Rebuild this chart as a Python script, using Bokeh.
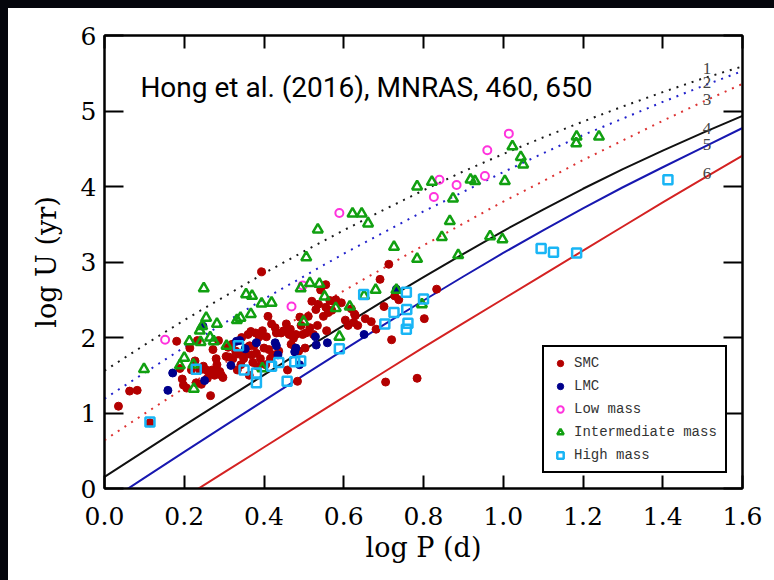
from bokeh.plotting import figure
from bokeh.models import (LinearAxis, Legend, LegendItem, ColumnDataSource, Label,
                          FixedTicker, Range1d, PrintfTickFormatter)
from bokeh.embed import file_html
from bokeh.resources import INLINE
from bokeh.core.properties import value

# ---------------- data ----------------
curve_x = [0.0, 0.1, 0.2, 0.3, 0.4, 0.5, 0.6, 0.7, 0.8, 0.9, 1.0, 1.1, 1.2, 1.3, 1.4, 1.5, 1.6]
line1_y = [1.56, 1.90, 2.23, 2.54, 2.85, 3.14, 3.42, 3.69, 3.95, 4.20, 4.43, 4.65, 4.86, 5.06, 5.25, 5.43, 5.59]
line2_y = [1.19, 1.53, 1.87, 2.19, 2.51, 2.81, 3.11, 3.39, 3.67, 3.93, 4.19, 4.44, 4.68, 4.90, 5.12, 5.33, 5.53]
line3_y = [0.64, 0.99, 1.33, 1.66, 1.99, 2.30, 2.62, 2.92, 3.22, 3.51, 3.80, 4.07, 4.35, 4.61, 4.87, 5.12, 5.36]
line4_y = [0.155, 0.495, 0.835, 1.170, 1.505, 1.835, 2.161, 2.485, 2.800, 3.108, 3.410, 3.695, 3.970, 4.230, 4.475, 4.710, 4.935]
line5_y = [-0.205, 0.140, 0.485, 0.825, 1.165, 1.502, 1.836, 2.168, 2.490, 2.808, 3.120, 3.420, 3.710, 3.990, 4.255, 4.515, 4.775]
line6_x = [0.2, 0.3, 0.4, 0.5, 0.6, 0.7, 0.8, 0.9, 1.0, 1.1, 1.2, 1.3, 1.4, 1.5, 1.6]
line6_y = [-0.12, 0.213, 0.546, 0.878, 1.21, 1.54, 1.87, 2.19, 2.51, 2.83, 3.15, 3.47, 3.79, 4.10, 4.41]

line_label_x = [1.511, 1.511, 1.511, 1.511, 1.511, 1.511]
line_label_y = [5.56, 5.38, 5.15, 4.77, 4.56, 4.17]
line_label_text = ["1", "2", "3", "4", "5", "6"]

smc_x = [0.035, 0.063, 0.082, 0.114, 0.181, 0.189, 0.195, 0.198, 0.206, 0.214, 0.218, 0.227, 0.230, 0.233,
         0.239, 0.243, 0.248, 0.255, 0.258, 0.264, 0.266, 0.270, 0.272, 0.276, 0.280, 0.282, 0.286, 0.289,
         0.293, 0.297, 0.305, 0.310, 0.313, 0.320, 0.322, 0.329, 0.333, 0.338, 0.342, 0.344, 0.349, 0.354,
         0.357, 0.360, 0.363, 0.364, 0.367, 0.369, 0.372, 0.375, 0.379, 0.381, 0.384, 0.388, 0.391, 0.394,
         0.396, 0.400, 0.404, 0.406, 0.410, 0.412, 0.416, 0.419, 0.422, 0.428, 0.431, 0.437, 0.443, 0.450,
         0.456, 0.459, 0.463, 0.466, 0.468, 0.474, 0.478, 0.480, 0.484, 0.487, 0.490, 0.493, 0.497, 0.503,
         0.505, 0.511, 0.515, 0.520, 0.524, 0.530, 0.534, 0.536, 0.542, 0.549, 0.555, 0.555, 0.557, 0.561,
         0.565, 0.570, 0.573, 0.580, 0.594, 0.604, 0.611, 0.619, 0.625, 0.627, 0.629, 0.635, 0.654, 0.669,
         0.681, 0.691, 0.701, 0.705, 0.713, 0.720, 0.728, 0.738, 0.784, 0.802, 0.833]
smc_y = [1.09, 1.29, 1.30, 0.87, 1.95, 1.59, 1.45, 1.37, 1.33, 1.86, 1.57, 1.69, 1.40, 1.96,
         1.57, 1.38, 1.62, 1.57, 1.46, 1.52, 1.23, 1.57, 1.84, 1.50, 1.72, 1.64, 1.96, 1.55,
         1.50, 1.47, 1.75, 1.87, 1.74, 1.91, 1.72, 1.82, 1.57, 1.78, 1.64, 2.00, 1.72, 1.86,
         1.78, 2.04, 1.50, 1.89, 2.08, 1.77, 1.67, 1.89, 2.06, 1.79, 1.62, 2.01, 1.72, 2.87,
         2.09, 1.86, 1.64, 2.01, 2.28, 1.84, 1.72, 2.18, 1.77, 2.13, 2.06, 1.82, 2.06, 2.09,
         2.18, 1.57, 2.04, 2.11, 1.91, 1.99, 1.86, 2.04, 1.42, 1.82, 2.27, 2.16, 2.04, 1.86,
         2.06, 2.28, 2.13, 2.48, 2.04, 2.37, 2.16, 2.44, 2.63, 2.28, 2.70, 2.40, 2.09, 2.33,
         2.49, 2.36, 2.48, 2.50, 2.46, 2.23, 2.16, 2.38, 2.20, 2.31, 2.29, 2.16, 2.25, 2.21,
         2.11, 2.77, 2.41, 1.41, 2.97, 1.97, 2.55, 2.50, 1.46, 2.25, 2.64]

lmc_x = [0.159, 0.171, 0.247, 0.251, 0.317, 0.331, 0.339, 0.353, 0.381, 0.428, 0.431, 0.435, 0.477,
         0.480, 0.489, 0.529, 0.531, 0.559, 0.651, 0.732]
lmc_y = [1.30, 1.53, 2.15, 1.43, 1.63, 1.95, 1.96, 1.85, 1.93, 1.93, 1.89, 1.77, 1.81,
         1.86, 1.64, 2.01, 1.90, 1.93, 2.04, 2.64]

low_x = [0.152, 0.469, 0.497, 0.589, 0.826, 0.840, 0.883, 0.954, 0.960, 1.014]
low_y = [1.97, 2.41, 2.69, 3.65, 3.86, 4.09, 4.02, 4.14, 4.48, 4.70]

int_x = [0.099, 0.189, 0.200, 0.213, 0.223, 0.224, 0.239, 0.241, 0.245, 0.249, 0.255, 0.265, 0.274, 0.282,
         0.306, 0.332, 0.341, 0.355, 0.367, 0.370, 0.394, 0.396, 0.419, 0.492, 0.499, 0.506, 0.515, 0.535,
         0.539, 0.552, 0.580, 0.589, 0.615, 0.622, 0.645, 0.651, 0.661, 0.680, 0.726, 0.732, 0.784, 0.784,
         0.796, 0.821, 0.846, 0.866, 0.874, 0.887, 0.918, 0.929, 0.967, 0.998, 1.004, 1.023, 1.044, 1.050,
         1.184, 1.183, 1.240]
int_y = [1.58, 1.63, 1.73, 1.95, 1.64, 1.32, 2.09, 1.94, 2.15, 2.65, 2.26, 2.00, 1.95, 2.18,
         1.89, 2.23, 2.26, 2.57, 2.31, 2.55, 2.45, 1.59, 2.46, 2.65, 2.21, 3.06, 2.72, 3.43,
         2.71, 2.54, 2.39, 2.01, 2.41, 3.64, 3.64, 2.55, 3.51, 2.63, 3.20, 2.63, 4.00, 3.04,
         2.44, 4.06, 3.33, 3.54, 3.84, 3.09, 4.09, 4.07, 3.34, 3.30, 4.07, 4.53, 4.39, 4.29,
         4.66, 4.57, 4.66]

high_x = [0.114, 0.230, 0.336, 0.350, 0.381, 0.381, 0.419, 0.437, 0.458, 0.477, 0.492, 0.589, 0.650,
          0.703, 0.726, 0.757, 0.758, 0.761, 0.757, 0.800, 1.095, 1.126, 1.184, 1.413]
high_y = [0.88, 1.58, 1.89, 1.57, 1.53, 1.40, 1.62, 1.67, 1.42, 1.68, 1.69, 1.85, 2.57,
          2.18, 2.33, 2.60, 2.37, 2.19, 2.11, 2.51, 3.18, 3.13, 3.12, 4.09]

x_ticks = [0.0, 0.2, 0.4, 0.6, 0.8, 1.0, 1.2, 1.4, 1.6]
y_ticks = [0, 1, 2, 3, 4, 5, 6]
title_text = "Hong et al. (2016), MNRAS, 460, 650"

# ---------------- figure ----------------
SERIF = "DejaVu Serif"
p = figure(width=766, height=572, x_range=Range1d(0, 1.6), y_range=Range1d(0, 6),
           output_backend="svg", toolbar_location=None,
           min_border_left=96, min_border_right=32, min_border_top=27, min_border_bottom=92)
p.background_fill_color = "white"
p.border_fill_color = "white"
p.outline_line_color = "black"
p.outline_line_width = 2
p.xgrid.grid_line_color = None
p.ygrid.grid_line_color = None
p.styles = {"margin-left": "8px", "margin-top": "8px", "background-color": "white"}


def style_axis(ax, tick_len):
    ax.axis_line_color = "black"
    ax.axis_line_width = 2
    ax.major_tick_line_color = "black"
    ax.major_tick_line_width = 2
    ax.major_tick_in = tick_len
    ax.major_tick_out = 0
    ax.minor_tick_line_color = None
    ax.major_label_text_font = SERIF
    ax.major_label_text_color = "black"
    ax.major_label_text_font_size = "25px"


xa = p.xaxis[0]
xa.ticker = FixedTicker(ticks=x_ticks)
xa.formatter = PrintfTickFormatter(format="%.1f")
style_axis(xa, 13)
xa.major_label_standoff = 18
xa.axis_label = "log P (d)"
xa.axis_label_text_font = SERIF
xa.axis_label_text_font_size = "27px"
xa.axis_label_text_font_style = "normal"
xa.axis_label_text_color = "black"
xa.axis_label_standoff = 4

ya = p.yaxis[0]
ya.ticker = FixedTicker(ticks=y_ticks)
style_axis(ya, 19)
ya.major_label_standoff = 8
ya.axis_label = "log U (yr)"
ya.axis_label_text_font = SERIF
ya.axis_label_text_font_size = "27px"
ya.axis_label_text_font_style = "normal"
ya.axis_label_text_color = "black"
ya.axis_label_standoff = 16

top_ax = LinearAxis(ticker=FixedTicker(ticks=x_ticks),
                    major_label_overrides={t: "" for t in x_ticks})
style_axis(top_ax, 13)
p.add_layout(top_ax, "above")
right_ax = LinearAxis(ticker=FixedTicker(ticks=y_ticks),
                      major_label_overrides={t: "" for t in y_ticks})
style_axis(right_ax, 19)
p.add_layout(right_ax, "right")

# ---------------- model lines ----------------
p.line(curve_x, line1_y, line_color="#1a1a1a", line_width=2, line_dash="2 6")
p.line(curve_x, line2_y, line_color="#2222cc", line_width=2, line_dash="2 6")
p.line(curve_x, line3_y, line_color="#dd3333", line_width=2, line_dash="2 6")
p.line(curve_x, line4_y, line_color="#111111", line_width=2)
p.line(curve_x, line5_y, line_color="#1818b0", line_width=2)
p.line(line6_x, line6_y, line_color="#d42222", line_width=2)

lab_src = ColumnDataSource(dict(x=line_label_x, y=line_label_y, t=line_label_text))
p.text(x="x", y="y", text="t", source=lab_src, text_font=value("Liberation Serif"),
       text_font_size="17px", text_color="#444444", text_align="center", text_baseline="middle")

# ---------------- points ----------------
r_smc = p.scatter(smc_x, smc_y, marker="circle", size=8, fill_color="#b30000", line_color="#b30000")
r_lmc = p.scatter(lmc_x, lmc_y, marker="circle", size=8, fill_color="#00008c", line_color="#00008c")
r_low = p.scatter(low_x, low_y, marker="circle", size=8, fill_color=None, line_color="#ff33dd",
                  line_width=2)
r_int = p.scatter(int_x, int_y, marker="triangle", size=10, fill_color=None, line_color="#11a011",
                  line_width=2.5)
r_high = p.scatter(high_x, high_y, marker="square", size=9, fill_color=None, line_color="#19b5f5",
                   line_width=2.5)

# ---------------- legend ----------------
legend = Legend(items=[
    LegendItem(label="SMC", renderers=[r_smc]),
    LegendItem(label="LMC", renderers=[r_lmc]),
    LegendItem(label="Low mass", renderers=[r_low]),
    LegendItem(label="Intermediate mass", renderers=[r_int]),
    LegendItem(label="High mass", renderers=[r_high]),
], location=(438, 15))
legend.label_text_font = "Liberation Mono"
legend.label_text_font_size = "14px"
legend.label_text_color = "#333333"
legend.border_line_color = "black"
legend.border_line_width = 2
legend.border_line_alpha = 1.0
legend.background_fill_color = "white"
legend.background_fill_alpha = 1.0
legend.glyph_width = 16
legend.glyph_height = 16
legend.label_height = 16
legend.label_standoff = 6
legend.spacing = 7
legend.padding = 8
legend.margin = 0
p.add_layout(legend, "center")

# ---------------- title text ----------------
p.add_layout(Label(x=0.09, y=5.31, text=title_text, text_font="Roboto",
                   text_font_size="28px", text_color="black", text_baseline="alphabetic"))

html = file_html(p, INLINE)
# dark slide backdrop only along the top and left edges; white elsewhere
bg = ("linear-gradient(to bottom, #05060c 0px, #05060c 8px, rgba(255,255,255,0) 8px), "
      "linear-gradient(to right, #05060c 0px, #05060c 8px, #ffffff 8px)")
page_style = ("<style>html, body { margin: 0; padding: 0; overflow: hidden; "
              "width: 774px; height: 580px; background: " + bg + "; }</style>")
html = html.replace("</head>", page_style + "</head>", 1)
open("out.html", "w").write(html)
